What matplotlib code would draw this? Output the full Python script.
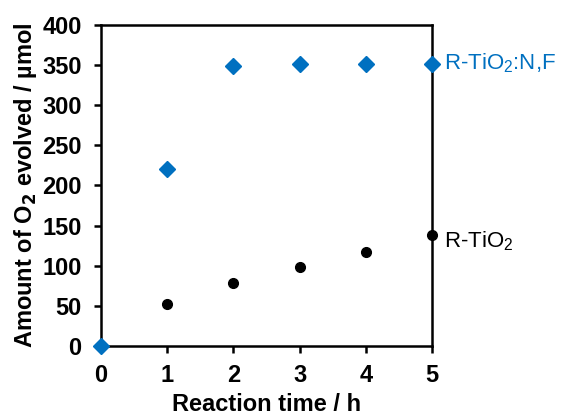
import matplotlib
matplotlib.use("Agg")
import matplotlib.pyplot as plt

plt.rcParams['font.family'] = ['Liberation Sans', 'DejaVu Sans']

# Data
time_h = [0, 1, 2, 3, 4, 5]
o2_doped = [0, 221, 349, 352, 351, 352]       # R-TiO2:N,F
time_plain = [1, 2, 3, 4, 5]
o2_plain = [52, 79, 99, 117, 138]              # R-TiO2

blue = '#0070C0'

fig = plt.figure(figsize=(5.65, 4.19), dpi=100)
ax = fig.add_axes([101 / 565, 1 - 346 / 419, 331 / 565, 321 / 419])

ax.plot(time_plain, o2_plain, 'o', color='black', markersize=7, clip_on=False, zorder=3)
ax.plot(time_h, o2_doped, 'D', color=blue, markersize=8.5, clip_on=False, zorder=3)

ax.set_xlim(0, 5)
ax.set_ylim(0, 400)
ax.set_xticks(range(0, 6))
ax.set_yticks(range(0, 401, 50))

for s in ax.spines.values():
    s.set_linewidth(1.8)
ax.tick_params(direction='out', length=5, width=1.8, labelsize=17)
ax.tick_params(axis='y', pad=9)
ax.tick_params(axis='x', pad=8)
for lab in ax.get_xticklabels() + ax.get_yticklabels():
    lab.set_fontweight('bold')

ax.set_xlabel('Reaction time / h', fontsize=17, fontweight='bold', labelpad=4)
ax.set_ylabel('Amount of O$_\\mathbf{2}$ evolved / µmol', fontsize=17, fontweight='bold', labelpad=2)

ax.annotate('R-TiO$_\\mathregular{2}$:N,F', (time_h[-1], o2_doped[-1]), xytext=(9, 0),
            textcoords='offset points', color=blue, fontsize=16, va='center', ha='left')
ax.annotate('R-TiO$_\\mathregular{2}$', (time_plain[-1], o2_plain[-1]), xytext=(9, -4),
            textcoords='offset points', color='black', fontsize=16, va='center', ha='left')

fig.savefig('out.png', dpi=100)
